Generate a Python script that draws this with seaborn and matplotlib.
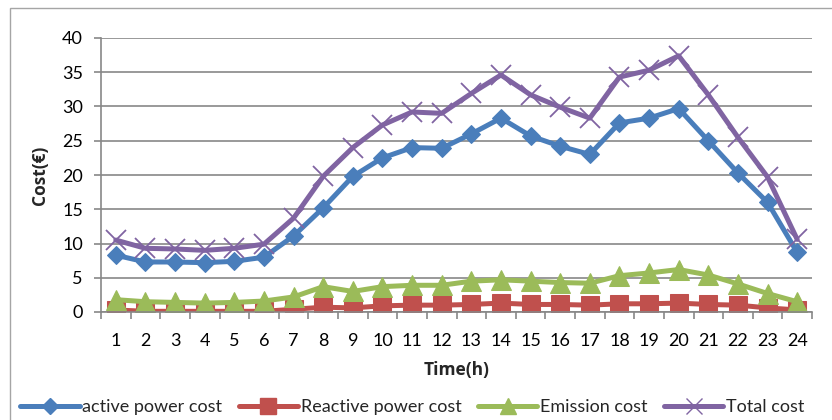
import matplotlib
matplotlib.use("Agg")
import matplotlib.pyplot as plt
import seaborn as sns
import numpy as np
from matplotlib.patches import Rectangle
from matplotlib.lines import Line2D

sns.set_theme(style="white")
plt.rcParams["font.family"] = ["Lato", "DejaVu Sans"]

hours = list(range(1, 25))
active_power_cost = [8.3, 7.3, 7.3, 7.2, 7.4, 8.0, 11.1, 15.2, 19.8, 22.5, 24.0, 23.9,
                     26.0, 28.3, 25.7, 24.2, 23.0, 27.6, 28.3, 29.7, 25.0, 20.3, 16.0, 8.7]
reactive_power_cost = [0.3, 0.1, 0.1, 0.1, 0.1, 0.1, 0.4, 0.7, 0.6, 0.9, 1.0, 1.0,
                       1.1, 1.3, 1.1, 1.1, 1.0, 1.2, 1.2, 1.3, 1.1, 1.0, 0.6, 0.3]
emission_cost = [1.8, 1.5, 1.4, 1.3, 1.4, 1.6, 2.2, 3.7, 3.0, 3.7, 3.9, 3.9,
                 4.5, 4.7, 4.5, 4.3, 4.2, 5.3, 5.7, 6.2, 5.4, 4.1, 2.7, 1.5]
total_cost = [10.5, 9.3, 9.2, 9.0, 9.3, 9.9, 13.7, 19.8, 24.0, 27.3, 29.2, 29.0,
              31.9, 34.6, 31.7, 29.9, 28.3, 34.3, 35.3, 37.4, 31.7, 25.5, 19.7, 10.6]
series_names = ["active power cost", "Reactive power cost", "Emission cost", "Total cost"]
y_ticks = [0, 5, 10, 15, 20, 25, 30, 35, 40]

W, H = 832, 420
fig = plt.figure(figsize=(W / 100, H / 100), dpi=100)
ax = fig.add_axes([101 / W, 1 - 312 / H, (812 - 101) / W, (312 - 38) / H])

# outer chart border
fig.patches.append(Rectangle((10 / W, -0.1), 1.2, 1 - 8 / H + 0.1, transform=fig.transFigure,
                             fill=False, edgecolor="#a5a5a5", linewidth=1.0))

styles = [
    (active_power_cost, "#4a7ebb", "D", 9.5, {}),
    (reactive_power_cost, "#c0504d", "s", 13, {}),
    (emission_cost, "#9bbb59", "^", 14, {}),
    (total_cost, "#8064a2", "x", 14, {"markeredgewidth": 1.3}),
]
for (vals, col, mk, ms, extra), name in zip(styles, series_names):
    sns.lineplot(x=hours, y=vals, ax=ax, color=col, linewidth=3.6, marker=mk,
                 markersize=ms, markeredgecolor=col, markerfacecolor=col,
                 label=name, legend=False, **extra)

ax.set_xlim(0.5, 24.5)
ax.set_ylim(0, 40)
ax.set_yticks(y_ticks)
ax.set_xticks(hours)
ax.set_xticks(np.arange(0.5, 25, 1), minor=True)
ax.yaxis.grid(True, color="#878787", linewidth=1.2)
ax.set_axisbelow(True)
for s in ["top", "right"]:
    ax.spines[s].set_visible(False)
for s in ["left", "bottom"]:
    ax.spines[s].set_color("#878787")
    ax.spines[s].set_linewidth(1.2)
ax.tick_params(axis="y", which="major", length=5, width=1.2, color="#878787",
               direction="out", pad=8, labelsize=13, labelcolor="black", left=True)
ax.tick_params(axis="x", which="major", length=0, pad=15, labelsize=13, labelcolor="black")
ax.tick_params(axis="x", which="minor", length=5, width=1.2, color="#878787",
               direction="out", bottom=True)
label_font = dict(fontsize=12.5, fontweight="bold", family=["Open Sans", "DejaVu Sans"])
ax.set_xlabel("Time(h)", labelpad=9, **label_font)
ax.set_ylabel("Cost(€)", labelpad=9, **label_font)
ax.patch.set_alpha(0)

handles = [Line2D([], [], color=c, linewidth=3.6, marker=m, markersize=s * 0.85,
                  markeredgecolor=c, markerfacecolor=c)
           for (_, c, m, s, _) in styles]
fig.legend(handles, series_names, loc="center left", bbox_to_anchor=(20 / W, 1 - 407 / H),
           ncol=4, frameon=False, fontsize=13, handlelength=3.3, handletextpad=0.15,
           columnspacing=0.9, borderaxespad=0, borderpad=0)

fig.savefig("out.png", dpi=100)
